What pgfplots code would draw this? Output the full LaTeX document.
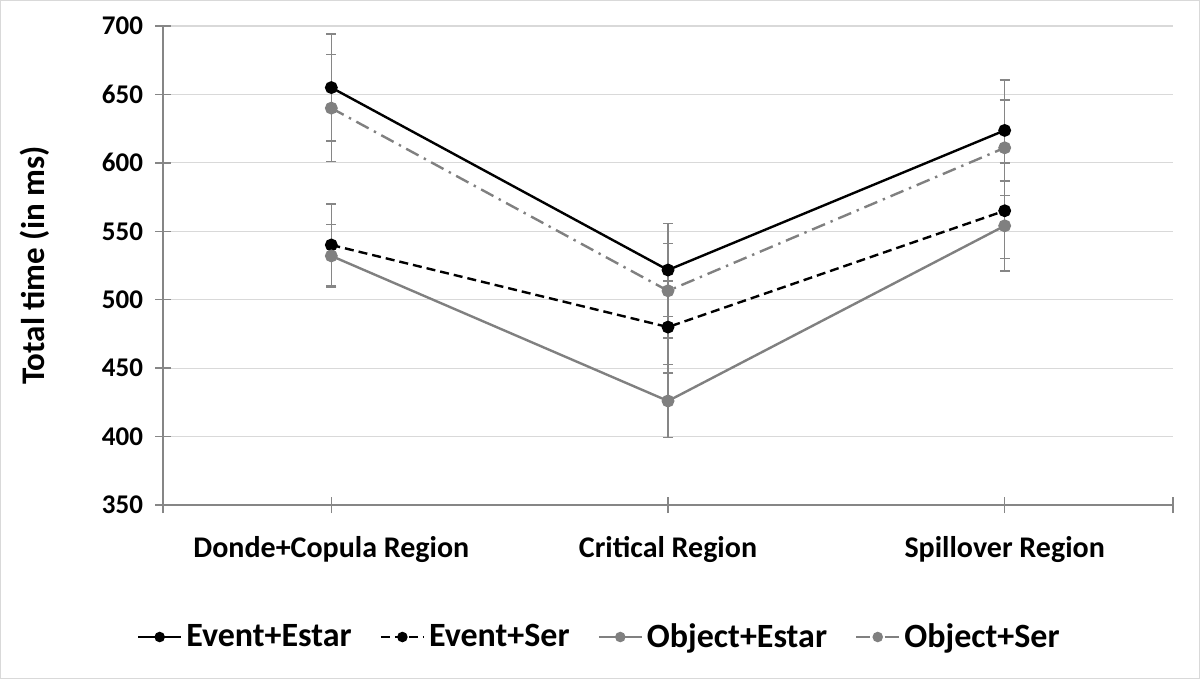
\documentclass[border=0pt]{standalone}
\usepackage{pgfplots}
\pgfplotsset{compat=1.18}
\usepackage{fontspec}
\setmainfont{Carlito}
\definecolor{axgray}{HTML}{868686}
\definecolor{gridgray}{HTML}{D9D9D9}
\definecolor{sergray}{HTML}{808080}
\begin{document}
\begin{tikzpicture}[x=1bp,y=1bp]
\useasboundingbox (0,0) rectangle (600,339.5);
\draw[gridgray, line width=0.6bp] (0.3,0.3) rectangle (599.7,339.2);
\begin{axis}[
  at={(81.5bp,87bp)}, anchor=south west,
  scale only axis, width=505bp, height=239.5bp,
  xmin=-0.5, xmax=2.5, ymin=350, ymax=700,
  axis x line*=bottom, axis y line*=left,
  axis line style={axgray, line width=0.7bp, -},
  xtick={-0.5,0,1,2,2.5},
  xticklabels={,Donde+Copula Region,Critical Region,Spillover Region,},
  ytick={350,400,...,700},
  tick align=center, major tick length=8bp,
  tick style={axgray, line width=0.7bp},
  ymajorgrids, grid style={gridgray, line width=0.6bp},
  /pgf/number format/assume math mode=true,
  yticklabel style={font=\fontsize{13.5bp}{16bp}\selectfont\bfseries, xshift=-2.5bp},
  xticklabel style={font=\fontsize{15bp}{18bp}\selectfont\bfseries, yshift=-8bp},
  ylabel={Total time (in ms)},
  every axis y label/.style={at={(axis description cs:-0.127,0.5)}, rotate=90, anchor=center, font=\fontsize{16.5bp}{20bp}\selectfont\bfseries},
  legend columns=4,
  legend style={at={(axis description cs:0.433,-0.2756)}, anchor=center, draw=none, fill=none,
    font=\fontsize{17bp}{20bp}\selectfont\bfseries, column sep=0bp,
    /tikz/every odd column/.append style={column sep=0bp},
    /tikz/every even column/.append style={column sep=12bp}},
  legend image code/.code={\draw[#1] (0bp,0bp) -- (21.5bp,0bp); \draw[#1, solid] plot[mark=*, mark size=2bp] coordinates {(10.75bp,0bp)};},
  error bars/y dir=both, error bars/y explicit,
  error bars/error bar style={axgray, line width=0.75bp, solid},
  error bars/error mark options={rotate=90, mark size=2.5bp, axgray, line width=0.75bp},
]
\addplot[black, line width=1.2bp, mark=*, mark size=2.6bp, mark options={solid}]
  coordinates {(0,655) +- (0,39) (1,521.7) +- (0,34) (2,623.7) +- (0,37)};
\addlegendentry{Event+Estar}
\addplot[black, line width=1.2bp, dash pattern=on 4.5bp off 2.5bp, mark=*, mark size=2.6bp, mark options={solid}]
  coordinates {(0,540) +- (0,30) (1,480) +- (0,33.5) (2,565) +- (0,35)};
\addlegendentry{Event+Ser}
\addplot[sergray, line width=1.2bp, mark=*, mark size=2.6bp, mark options={solid}]
  coordinates {(0,532) +- (0,23) (1,426) +- (0,26.5) (2,554) +- (0,33)};
\addlegendentry{Object+Estar}
\addplot[sergray, line width=1.2bp, dash pattern=on 7bp off 3bp on 1.2bp off 3bp, mark=*, mark size=2.6bp, mark options={solid}]
  coordinates {(0,640) +- (0,39) (1,506.5) +- (0,34.5) (2,611) +- (0,35)};
\addlegendentry{Object+Ser}
\end{axis}
\end{tikzpicture}
\end{document}
